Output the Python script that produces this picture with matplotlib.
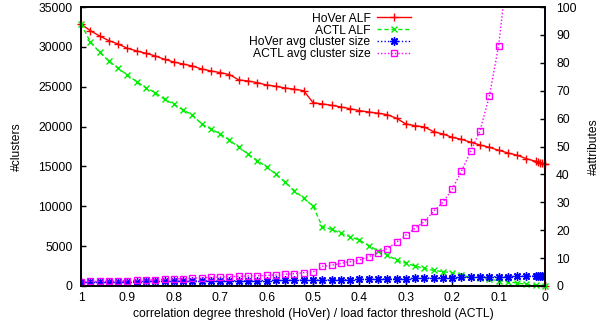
import matplotlib
matplotlib.use('Agg')
import matplotlib.pyplot as plt
from matplotlib.ticker import FormatStrFormatter

plt.rcParams['font.family'] = ['Liberation Sans', 'DejaVu Sans']
plt.rcParams['font.size'] = 8.7

# threshold grid (x axis, reversed)
thr = [1.00, 0.98, 0.96, 0.94, 0.92, 0.90, 0.88, 0.86, 0.84, 0.82,
       0.80, 0.78, 0.76, 0.74, 0.72, 0.70, 0.68, 0.66, 0.64, 0.62,
       0.60, 0.58, 0.56, 0.54, 0.52, 0.50, 0.48, 0.46, 0.44, 0.42,
       0.40, 0.38, 0.36, 0.34, 0.32, 0.30, 0.28, 0.26, 0.24, 0.22,
       0.20, 0.18, 0.16, 0.14, 0.12, 0.10, 0.08, 0.06, 0.04, 0.02, 0.00]
# HoVer has a few extra thresholds packed near 0
hover_thr = thr[:-1] + [0.015, 0.01, 0.006, 0.003, 0.0, 0.0]

hover_alf = [32870, 32030, 31370, 30780, 30360, 29820, 29490, 29190, 28860, 28440,
             28100, 27850, 27600, 27230, 26980, 26770, 26520, 25850, 25720, 25510,
             25220, 25050, 24840, 24680, 24500, 23000, 22840, 22670, 22460, 22250,
             22000, 21830, 21670, 21500, 21040, 20330, 20110, 19950, 19360, 19070,
             18650, 18400, 18030, 17690, 17400, 17030, 16690, 16400, 15970, 15640,
             15550, 15460, 15380, 15320, 15270, 0]
actl_alf = [32870, 30650, 29320, 28230, 27310, 26470, 25630, 24880, 24260, 23420,
            22800, 22080, 21460, 20330, 19700, 19070, 18320, 17400, 16560, 15720,
            14970, 14010, 13010, 11960, 11000, 10040, 7440, 7110, 6610, 6190,
            5750, 5060, 4430, 3890, 3260, 2850, 2510, 2220, 1950, 1800,
            1670, 1380, 1090, 960, 840, 670, 500, 380, 210, 130, 40]
hover_size = [1.5, 1.5, 1.55, 1.55, 1.6, 1.6, 1.6, 1.65, 1.65, 1.7,
              1.7, 1.75, 1.75, 1.8, 1.8, 1.85, 1.85, 1.9, 1.9, 1.95,
              1.95, 2.0, 2.0, 2.05, 2.1, 2.1, 2.15, 2.2, 2.25, 2.3,
              2.35, 2.4, 2.45, 2.5, 2.6, 2.65, 2.7, 2.8, 2.9, 3.0,
              3.0, 3.1, 3.15, 3.2, 3.3, 3.35, 3.4, 3.5, 3.55, 3.6,
              3.6, 3.6, 3.6, 3.6, 3.6, 150]
actl_size = [1.55, 1.67, 1.67, 1.79, 1.79, 1.91, 2.03, 2.15, 2.27, 2.39,
             2.51, 2.63, 2.75, 2.99, 3.11, 3.23, 3.35, 3.47, 3.58, 3.70,
             3.82, 3.94, 4.18, 4.42, 4.78, 5.02, 7.05, 7.45, 8.1, 8.7,
             9.3, 10.5, 11.9, 13.4, 15.7, 18.2, 20.7, 23.1, 26.8, 30.0,
             34.7, 41.2, 48.3, 55.7, 68.0, 86.1, 115]

fig = plt.figure(figsize=(6.11, 3.29), dpi=100)
ax = fig.add_axes([81/611, 43/329, 464/611, 279/329])
ax2 = ax.twinx()

l1, = ax.plot(hover_thr, hover_alf, color='#ff0000', lw=1, marker='+', ms=6,
              mew=1, label='HoVer ALF', clip_on=False, zorder=3)
l2, = ax.plot(thr, actl_alf, color='#00ee00', lw=1, ls=(0, (3, 2)), marker='x',
              ms=5, mew=1, label='ACTL ALF', clip_on=False, zorder=3)
l3, = ax2.plot(hover_thr, hover_size, color='#0000ff', lw=1, ls=(0, (1, 1.5)),
               marker=(8, 2, 0), ms=6, mew=1, label='HoVer avg cluster size')
l4, = ax2.plot(thr[:len(actl_size)], actl_size, color='#ff00ff', lw=1, ls=(0, (1, 1.5)),
               marker='s', ms=5, mew=1, mfc='none', label='ACTL avg cluster size')

ax.set_xlim(1, 0)
ax.set_ylim(0, 35000)
ax2.set_ylim(0, 100)
ax.set_xticks([1, 0.9, 0.8, 0.7, 0.6, 0.5, 0.4, 0.3, 0.2, 0.1, 0])
ax.xaxis.set_major_formatter(FormatStrFormatter('%g'))
ax.set_yticks(range(0, 35001, 5000))
ax2.set_yticks(range(0, 101, 10))

ax.tick_params(direction='in', length=3.6, width=1, top=False, right=False)
ax.tick_params(axis='y', pad=6)
ax.tick_params(axis='x', pad=4.5)
ax2.tick_params(direction='in', length=3.6, width=1, pad=8)
for a in (ax, ax2):
    for s in a.spines.values():
        s.set_linewidth(1.2)

ax.set_xlabel('correlation degree threshold (HoVer) / load factor threshold (ACTL)')
ax.set_ylabel('#clusters')
ax2.set_ylabel('#attributes')
ax.xaxis.set_label_coords(0.5, -0.08)
ax.yaxis.set_label_coords(-0.125, 0.5)
ax2.yaxis.set_label_coords(1.093, 0.5)

fig.legend(handles=[l1, l2, l3, l4], loc='upper right',
           bbox_to_anchor=(411/611, 1 - 12.5/329), frameon=False,
           markerfirst=False, handlelength=2.8, handletextpad=0.55,
           labelspacing=0.0, borderpad=0, borderaxespad=0)

fig.savefig('out.png', dpi=100)
